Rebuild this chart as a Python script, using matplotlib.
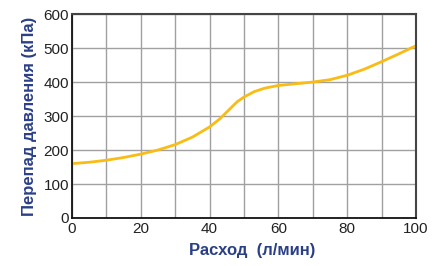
import matplotlib
matplotlib.use("Agg")
import matplotlib.pyplot as plt

plt.rcParams['font.family'] = ['Liberation Sans', 'DejaVu Sans']

flow = [0, 5, 10, 15, 20, 25, 30, 35, 40, 43, 46, 48, 50, 53, 56, 60, 65, 70, 75, 80, 85, 90, 95, 100]
pressure = [160, 164, 170, 178, 188, 200, 216, 238, 268, 292, 322, 342, 356, 372, 382, 390, 395, 400, 407, 420, 438, 460, 483, 507]

x_ticks = [0, 20, 40, 60, 80, 100]
y_ticks = [0, 100, 200, 300, 400, 500, 600]

fig = plt.figure(figsize=(4.38, 2.66), dpi=100)
ax = fig.add_axes([0.1644, 0.1805, 0.7854, 0.7665])

ax.set_xlim(0, 100)
ax.set_ylim(0, 600)
ax.set_yticks(y_ticks)
ax.set_xticks(range(0, 101, 10))
ax.set_xticklabels([str(v) if v in x_ticks else "" for v in range(0, 101, 10)])
ax.grid(True, color="#a0a0a0", linewidth=1.0)
ax.set_axisbelow(True)

ax.plot(flow, pressure, color="#F9BC15", linewidth=2.0, solid_capstyle="round")

for side in ["left", "bottom"]:
    ax.spines[side].set_color("#111111")
    ax.spines[side].set_linewidth(1.3)
for side in ["top", "right"]:
    ax.spines[side].set_color("#444444")
    ax.spines[side].set_linewidth(1.5)

ax.tick_params(axis="both", length=0, labelsize=11, colors="#222222", pad=2)
ax.tick_params(axis="x", pad=3)

label_color = "#2A3F86"
ax.set_xlabel("Расход  (л/мин)", fontsize=12, fontweight="bold", color=label_color)
ax.xaxis.set_label_coords(0.523, -0.125)
ax.set_ylabel("Перепад давления (кПа)", fontsize=12, fontweight="bold", color=label_color, labelpad=5)

fig.savefig("out.png", dpi=100)
